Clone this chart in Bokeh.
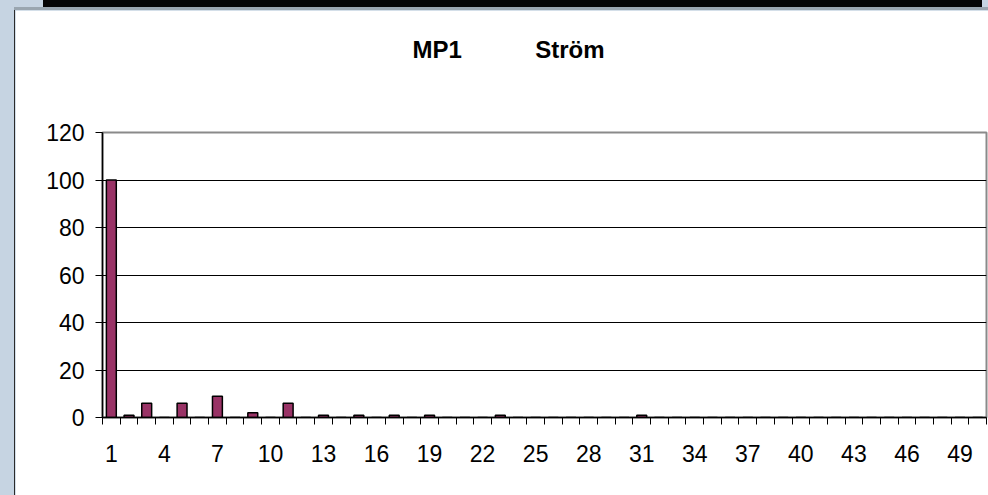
from bokeh.plotting import figure
from bokeh.models import (ColumnDataSource, FixedTicker, Range1d, Title,
                          GlobalInlineStyleSheet)
from bokeh.embed import file_html
from bokeh.resources import INLINE

# ---- data -------------------------------------------------------------
categories = list(range(1, 51))
values = [100, 1, 6, 0, 6, 0, 9, 0, 2, 0,
          6, 0, 1, 0, 1, 0, 1, 0, 1, 0,
          0, 0, 1, 0, 0, 0, 0, 0, 0, 0,
          1, 0, 0, 0, 0, 0, 0, 0, 0, 0,
          0, 0, 0, 0, 0, 0, 0, 0, 0, 0]
x_tick_labels = [1, 4, 7, 10, 13, 16, 19, 22, 25, 28, 31, 34, 37, 40, 43, 46, 49]
y_ticks = [0, 20, 40, 60, 80, 100, 120]
title_text = "MP1" + "\u00a0" * 11 + "Ström"

FONT = "Liberation Sans"

src = ColumnDataSource(dict(x=categories, top=values))

p = figure(width=973, height=485, output_backend="svg", toolbar_location=None,
           title_location=None,
           x_range=Range1d(0.5, 50.5), y_range=Range1d(0, 120),
           min_border_left=87, min_border_right=2, min_border_top=122,
           min_border_bottom=78)

# spacer panel between the frame and the title (first = closest to frame)
spacer = Title(text="\u200b", text_font=FONT, text_font_size="24px",
               standoff=36)
p.add_layout(spacer, "above")

title = Title(text=title_text, text_font=FONT, text_font_size="24px",
              text_font_style="bold", text_color="black", align="left",
              offset=310, standoff=10)
p.add_layout(title, "above")

p.background_fill_color = "white"
p.border_fill_color = "white"
p.outline_line_color = "#8a8a8a"
p.outline_line_width = 2

p.vbar(x="x", top="top", width=0.56, source=src,
       fill_color="#993366", line_color="black", line_width=1.5)

# x axis: labels every third category, tick marks between categories
xa = p.below[0]
xa.ticker = FixedTicker(ticks=x_tick_labels,
                        minor_ticks=[c - 0.5 for c in categories] + [categories[-1] + 0.5])
xa.major_tick_out = 0
xa.major_tick_in = 0
xa.minor_tick_out = 7
xa.minor_tick_in = 0
xa.minor_tick_line_color = "black"
xa.axis_line_color = "black"
xa.axis_line_width = 1.5
xa.major_label_standoff = 20
xa.major_label_text_font = FONT
xa.major_label_text_font_size = "23px"
xa.major_label_text_color = "black"

ya = p.left[0]
ya.ticker = FixedTicker(ticks=y_ticks)
ya.major_tick_out = 7
ya.major_tick_in = 0
ya.minor_tick_out = 0
ya.minor_tick_in = 0
ya.major_tick_line_color = "black"
ya.axis_line_color = "black"
ya.axis_line_width = 1.5
ya.major_label_standoff = 11
ya.major_label_text_font = FONT
ya.major_label_text_font_size = "23px"
ya.major_label_text_color = "black"

p.xgrid.visible = False
p.ygrid.ticker = FixedTicker(ticks=y_ticks[1:-1])
p.ygrid.grid_line_color = "black"
p.ygrid.grid_line_width = 1

p.margin = (10, 0, 0, 15)
p.stylesheets = [GlobalInlineStyleSheet(css=(
    "html,body{margin:0 !important;padding:0 !important;}"
    "body{background:"
    " linear-gradient(#050505,#050505) 43px 0/939px 7px no-repeat,"
    " linear-gradient(#9aa6b0,#9aa6b0) 14px 7px/974px 3px no-repeat,"
    " linear-gradient(#2b2b2b,#2b2b2b) 14px 8px/1px 487px no-repeat,"
    " #c6d4e2 !important;}"))]

open("out.html", "w").write(file_html(p, INLINE))
